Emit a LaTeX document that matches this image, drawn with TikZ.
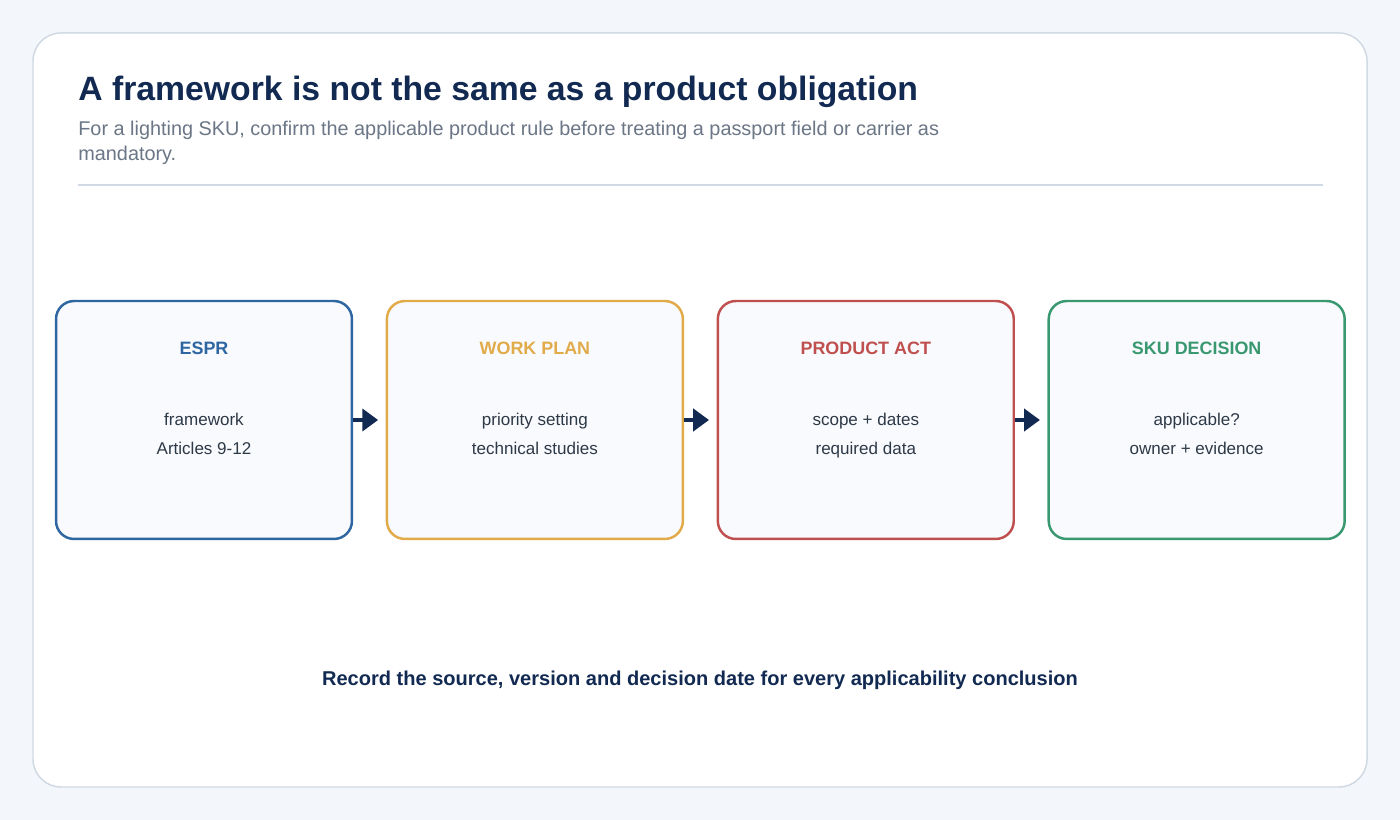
\documentclass[tikz,border=0pt]{standalone}
\usepackage{fontspec}
\setmainfont{Liberation Sans}
\usetikzlibrary{positioning,arrows.meta}

\definecolor{pagebg}{HTML}{F3F6FA}
\definecolor{cardline}{HTML}{D1D9E4}
\definecolor{navy}{HTML}{122A52}
\definecolor{subgray}{HTML}{6B7686}
\definecolor{bodytext}{HTML}{2E3947}
\definecolor{boxfill}{HTML}{F8FAFD}
\definecolor{esprblue}{HTML}{2E66A1}
\definecolor{planyellow}{HTML}{E1AB4A}
\definecolor{actred}{HTML}{C0504F}
\definecolor{skugreen}{HTML}{3A9870}

\begin{document}
\begin{tikzpicture}[x=0.02cm,y=-0.02cm,node distance=0.65cm,
  box/.style={draw, rounded corners=0.36cm, line width=1.4pt, fill=boxfill,
    minimum width=5.92cm, minimum height=4.76cm, inner sep=0pt},
  head/.style={font=\bfseries\fontsize{10.2}{12}\selectfont},
  body/.style={font=\fontsize{9.7}{16.4}\selectfont, text=bodytext, align=center,
    anchor=base},
  link/.style={draw=navy, line width=2.3pt, shorten >=4.3pt,
    -{Triangle[length=9pt,width=12.5pt]}}]

  % Page and card
  \fill[pagebg] (0,0) rectangle (1400,820);
  \draw[cardline, fill=white, line width=0.85pt, rounded corners=0.56cm]
    (33,33) rectangle (1367,787);

  % Title
  \node[anchor=base west, inner sep=0pt, text=navy,
    font=\bfseries\fontsize{19.2}{23}\selectfont] (title) at (78,101)
    {A framework is not the same as a product obligation};
  \node[anchor=base west, inner sep=0pt, text=subgray, align=left,
    font=\fontsize{11.3}{14.7}\selectfont] (subtitle) at (78,161)
    {For a lighting SKU, confirm the applicable product rule before treating a passport field or carrier as\\mandatory.};
  \draw[cardline, line width=0.85pt] (78,185) -- (1323,185);

  % Boxes
  \node[box, draw=esprblue] (espr) at (204,420) {};
  \node[box, draw=planyellow, right=of espr] (wplan) {};
  \node[box, draw=actred, right=of wplan] (pact) {};
  \node[box, draw=skugreen, right=of pact] (skudec) {};

  % Box texts
  \node[head, text=esprblue] (espr-t) at ([yshift=-0.98cm]espr.north) {ESPR};
  \node[body] (espr-b) at ([yshift=-0.69cm]espr.center) {framework\\Articles 9-12};
  \node[head, text=planyellow] (wplan-t) at ([yshift=-0.98cm]wplan.north) {WORK PLAN};
  \node[body] (wplan-b) at ([yshift=-0.69cm]wplan.center) {priority setting\\technical studies};
  \node[head, text=actred] (pact-t) at ([yshift=-0.98cm]pact.north) {PRODUCT ACT};
  \node[body] (pact-b) at ([yshift=-0.69cm]pact.center) {scope + dates\\required data};
  \node[head, text=skugreen] (skudec-t) at ([yshift=-0.98cm]skudec.north) {SKU DECISION};
  \node[body] (skudec-b) at ([yshift=-0.69cm]skudec.center) {applicable?\\owner + evidence};

  % Links
  \draw[link] (espr) -- (wplan);
  \draw[link] (wplan) -- (pact);
  \draw[link] (pact) -- (skudec);

  % Footer
  \node[text=navy, font=\bfseries\fontsize{11.4}{13}\selectfont] (note) at (700,680)
    {Record the source, version and decision date for every applicability conclusion};
\end{tikzpicture}
\end{document}
